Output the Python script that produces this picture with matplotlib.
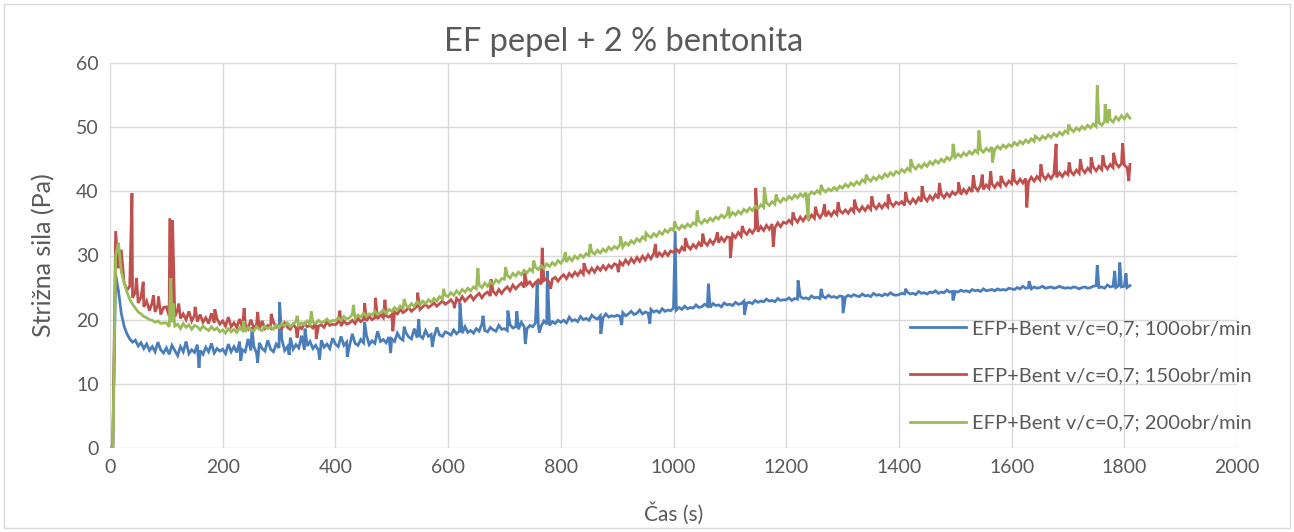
import numpy as np
import matplotlib.pyplot as plt
from matplotlib.patches import Rectangle

# shear force readings every 5 s (0 ... 1810 s)
step = 5

blue_100 = [
    0, 0, 27.0, 24.5, 21.0, 19.0, 17.8, 17.0, 16.5, 16.8, 15.9, 16.4, 15.5, 16.2, 15.2, 15.8, 15.0, 16.5, 15.3, 14.8,
    15.6, 14.6, 16.0, 15.2, 14.4, 15.8, 15.0, 16.6, 14.7, 15.3, 14.9, 16.1, 15.2, 14.6, 15.7, 15.0, 16.3, 14.8, 15.5, 15.1,
    15.4, 14.7, 16.2, 15.0, 15.8, 14.9, 16.6, 15.3, 15.0, 17.0, 15.2, 15.9, 14.8, 16.4, 15.5, 15.1, 16.8, 15.4, 15.0, 16.2,
    15.6, 16.9, 15.2, 15.8, 17.2, 15.4, 16.1, 15.6, 17.5, 15.3, 15.9, 16.6, 15.5, 16.0, 15.2, 16.8, 15.7, 16.2, 15.5, 17.1,
    16.2, 15.8, 17.4, 16.0, 16.5, 15.9, 17.8, 16.3, 16.0, 16.9, 16.4, 17.6, 16.1, 16.7, 16.3, 18.2, 16.6, 16.9, 16.4, 17.3,
    17.0, 16.6, 17.9, 17.1, 16.8, 18.0, 17.3, 17.0, 18.6, 17.2, 17.5, 17.1, 18.3, 17.4, 17.7, 17.3, 18.8, 17.6, 17.4, 18.1,
    17.9, 17.6, 18.4, 17.8, 18.2, 17.9, 18.9, 18.0, 18.3, 17.9, 18.6, 18.2, 19.3, 18.3, 18.1, 18.8, 18.4, 18.2, 19.1, 18.5,
    18.6, 18.3, 19.2, 18.7, 18.9, 18.5, 19.6, 18.9, 18.6, 19.1, 18.9, 19.5, 19.2, 19.0, 19.8, 19.3, 19.1, 19.7, 19.4, 19.9,
    19.6, 19.9, 19.5, 20.4, 19.8, 20.0, 19.7, 20.5, 20.0, 20.2, 19.9, 20.7, 20.3, 20.1, 20.6, 20.3, 20.9, 20.4, 20.6, 20.5,
    20.7, 20.5, 21.1, 20.6, 20.9, 21.3, 20.8, 21.0, 21.5, 20.9, 21.2, 21.0, 21.6, 21.2, 21.4, 21.1, 21.7, 21.3, 21.5, 21.4,
    21.8, 21.5, 21.9, 21.6, 22.1, 21.7, 21.9, 21.8, 22.3, 21.9, 22.0, 22.4, 22.1, 21.9, 22.5, 22.2, 22.3, 22.0, 22.6, 22.3,
    22.4, 22.2, 22.7, 22.4, 22.5, 22.9, 22.6, 22.7, 22.5, 23.0, 22.7, 22.9, 22.8, 23.2, 22.9, 23.0, 22.8, 23.3, 23.0, 23.1,
    23.1, 23.4, 23.0, 23.3, 23.2, 23.6, 23.3, 23.4, 23.2, 23.7, 23.4, 23.5, 23.3, 23.6, 23.4, 23.8, 23.5, 23.6, 23.4, 23.7,
    23.6, 23.5, 23.8, 23.6, 23.9, 23.7, 23.6, 24.0, 23.7, 23.8, 23.6, 24.1, 23.8, 23.9, 23.7, 24.0, 23.8, 24.2, 23.9, 23.8,
    23.9, 24.1, 24.0, 24.3, 24.0, 24.1, 23.9, 24.4, 24.1, 24.2, 24.0, 24.3, 24.2, 24.5, 24.1, 24.3, 24.2, 24.6, 24.3, 24.4,
    24.4, 24.3, 24.6, 24.4, 24.5, 24.3, 24.7, 24.5, 24.6, 24.4, 24.8, 24.5, 24.6, 24.7, 24.5, 24.8, 24.6, 24.7, 24.6, 24.9,
    24.8, 24.7, 25.0, 24.8, 25.2, 24.9, 25.0, 24.8, 25.1, 24.9, 25.0, 25.2, 24.9, 25.0, 25.1, 24.9, 25.0, 25.2, 25.0, 24.9,
    25.0, 24.9, 25.1, 25.0, 24.8, 25.0, 25.1, 24.9, 25.0, 25.2, 25.3, 25.0, 25.1, 24.9, 25.4, 25.1, 25.2, 25.0, 25.3, 25.1,
    25.2, 25.0, 25.3,
]

red_150 = [
    0, 0, 33.8, 28.0, 30.9, 25.8, 24.6, 25.2, 23.4, 24.3, 22.6, 23.5, 22.0, 22.9, 21.4, 22.7, 21.2, 22.3, 20.8, 21.9,
    22.0, 20.6, 21.4, 20.4, 21.6, 20.2, 20.9, 20.0, 21.3, 19.8, 20.7, 19.7, 20.8, 19.6, 20.3, 19.4, 21.0, 19.5, 20.1, 19.3,
    19.8, 19.0, 20.4, 18.9, 19.5, 18.8, 20.1, 18.7, 19.3, 18.6, 20.0, 18.7, 19.2, 18.5, 19.8, 18.6, 19.1, 18.7, 19.6, 18.8,
    19.0, 18.6, 19.5, 18.8, 18.5, 19.3, 18.7, 19.0, 18.6, 19.4, 18.9, 19.1, 18.7, 19.6, 19.0, 19.2, 18.8, 19.7, 19.1, 19.3,
    19.2, 19.6, 19.0, 19.8, 19.3, 19.5, 19.9, 19.4, 20.2, 19.7, 20.0, 19.8, 20.5, 20.0, 20.3, 20.1, 20.8, 20.3, 20.6, 20.4,
    20.8, 21.2, 20.9, 21.6, 21.1, 21.4, 21.9, 21.3, 21.7, 22.1, 21.6, 22.0, 22.4, 21.9, 22.2, 22.6, 22.1, 22.5, 22.9, 22.4,
    22.7, 23.1, 22.5, 23.3, 22.8, 23.6, 22.9, 23.4, 23.8, 23.1, 23.7, 24.1, 23.4, 24.0, 24.3, 23.7, 24.4, 23.9, 24.7, 24.1,
    24.7, 25.1, 24.5, 25.4, 24.8, 25.3, 25.7, 25.0, 25.5, 25.9, 25.2, 25.8, 26.2, 25.5, 26.1, 26.4, 25.7, 26.3, 26.6, 26.0,
    26.6, 27.0, 26.4, 27.2, 26.7, 27.4, 26.9, 27.6, 27.1, 27.8, 27.3, 28.0, 27.4, 28.2, 27.7, 28.4, 27.8, 28.5, 28.1, 28.7,
    28.5, 29.0, 28.5, 29.3, 28.7, 29.5, 28.9, 29.7, 29.1, 29.9, 29.3, 30.1, 29.5, 30.3, 29.7, 30.4, 29.9, 30.6, 30.0, 30.7,
    30.5, 31.0, 30.5, 31.3, 30.7, 31.5, 31.0, 31.7, 31.2, 32.0, 31.4, 32.1, 31.6, 32.4, 31.8, 32.6, 32.0, 32.8, 32.2, 32.9,
    32.8, 33.3, 32.8, 33.6, 33.0, 33.8, 33.3, 34.0, 33.5, 34.2, 33.7, 34.5, 33.9, 34.7, 34.1, 34.9, 34.3, 35.1, 34.5, 35.2,
    35.0, 35.5, 35.0, 35.8, 35.2, 36.0, 35.4, 36.1, 35.6, 36.3, 35.8, 36.5, 35.9, 36.6, 36.1, 36.8, 36.2, 36.9, 36.4, 37.0,
    36.6, 37.1, 36.6, 37.3, 36.8, 37.4, 36.9, 37.6, 37.0, 37.7, 37.2, 37.8, 37.3, 38.0, 37.4, 38.1, 37.6, 38.2, 37.7, 38.3,
    38.0, 38.4, 37.8, 38.6, 38.1, 38.8, 38.2, 39.0, 38.4, 39.1, 38.5, 39.3, 38.7, 39.5, 38.9, 39.6, 39.0, 39.7, 39.2, 39.9,
    39.5, 40.0, 39.5, 40.3, 39.7, 40.5, 39.9, 40.7, 40.1, 40.9, 40.3, 41.0, 40.5, 41.2, 40.6, 41.3, 40.8, 41.5, 40.9, 41.6,
    41.2, 41.7, 41.2, 41.9, 41.3, 42.0, 41.5, 42.2, 41.6, 42.3, 41.8, 42.5, 41.9, 42.6, 42.0, 42.7, 42.2, 42.9, 42.3, 43.0,
    42.6, 43.1, 42.6, 43.3, 42.8, 43.5, 42.9, 43.6, 43.1, 43.8, 43.2, 43.9, 43.4, 44.1, 43.5, 44.2, 43.7, 44.4, 43.8, 44.3,
    44.1, 43.7, 44.2,
]

green_200 = [
    0, 0, 30.0, 32.0, 27.5, 25.8, 24.3, 23.2, 22.4, 21.8, 21.2, 20.9, 20.5, 20.3, 20.0, 19.9, 19.6, 19.8, 19.4, 19.5,
    19.5, 18.9, 19.6, 19.0, 19.3, 18.6, 19.4, 18.8, 19.2, 18.5, 19.1, 18.9, 18.4, 19.0, 18.6, 18.3, 18.9, 18.4, 18.7, 18.1,
    18.4, 17.9, 18.6, 18.1, 18.5, 18.0, 18.7, 18.3, 18.1, 18.8, 18.4, 18.2, 18.9, 18.5, 18.3, 19.0, 18.6, 18.9, 18.5, 19.2,
    18.8, 19.4, 19.0, 19.5, 18.9, 19.3, 19.7, 19.1, 19.5, 19.2, 19.8, 19.3, 19.6, 19.4, 19.9, 19.5, 19.7, 20.1, 19.6, 19.9,
    19.8, 20.3, 19.9, 20.5, 20.1, 20.3, 20.8, 20.2, 20.7, 20.4, 21.0, 20.5, 20.9, 20.7, 21.3, 20.8, 21.1, 21.5, 21.0, 21.6,
    21.3, 21.9, 21.5, 22.1, 21.7, 22.3, 21.9, 22.5, 22.1, 22.8, 22.3, 22.9, 22.5, 23.1, 22.7, 23.3, 22.9, 23.6, 23.2, 23.8,
    23.6, 24.2, 23.8, 24.5, 24.0, 24.7, 24.3, 24.9, 24.5, 25.1, 24.8, 25.4, 25.0, 25.7, 25.2, 25.9, 25.5, 26.2, 25.8, 26.4,
    26.3, 26.9, 26.5, 27.2, 26.8, 27.4, 27.0, 27.7, 27.3, 27.9, 27.5, 28.2, 27.8, 28.4, 28.0, 28.7, 28.3, 28.9, 28.5, 29.2,
    28.8, 29.4, 29.0, 29.7, 29.2, 29.9, 29.5, 30.1, 29.7, 30.3, 30.0, 30.6, 30.2, 30.8, 30.4, 31.0, 30.6, 31.3, 30.9, 31.4,
    31.1, 31.7, 31.3, 32.0, 31.6, 32.3, 31.9, 32.6, 32.2, 32.9, 32.5, 33.1, 32.8, 33.4, 33.0, 33.7, 33.3, 34.0, 33.6, 34.2,
    33.9, 34.5, 34.1, 34.7, 34.3, 34.9, 34.5, 35.1, 34.8, 35.4, 35.0, 35.6, 35.2, 35.8, 35.4, 36.0, 35.7, 36.3, 35.9, 36.4,
    36.1, 36.7, 36.3, 36.9, 36.5, 37.2, 36.8, 37.4, 37.0, 37.7, 37.3, 37.9, 37.5, 38.2, 37.8, 38.4, 38.0, 38.7, 38.3, 38.9,
    38.6, 39.2, 38.8, 39.4, 39.0, 39.6, 39.2, 39.8, 39.4, 39.9, 39.6, 40.1, 39.7, 40.3, 39.9, 40.4, 40.1, 40.6, 40.2, 40.8,
    40.5, 41.1, 40.7, 41.3, 40.9, 41.5, 41.1, 41.8, 41.4, 42.0, 41.6, 42.2, 41.8, 42.4, 42.0, 42.7, 42.3, 42.9, 42.5, 43.1,
    42.8, 43.4, 43.0, 43.6, 43.2, 43.9, 43.5, 44.1, 43.7, 44.3, 43.9, 44.6, 44.2, 44.8, 44.4, 45.0, 44.6, 45.3, 44.9, 45.5,
    45.3, 45.8, 45.4, 46.0, 45.6, 46.2, 45.8, 46.4, 46.0, 46.5, 46.1, 46.7, 46.3, 46.9, 46.5, 47.0, 46.6, 47.2, 46.8, 47.3,
    47.0, 47.6, 47.2, 47.8, 47.4, 48.0, 47.6, 48.2, 47.8, 48.4, 48.0, 48.6, 48.2, 48.8, 48.4, 49.0, 48.6, 49.2, 48.8, 49.4,
    49.1, 49.7, 49.3, 49.9, 49.5, 50.1, 49.7, 50.3, 49.9, 50.5, 50.1, 50.7, 50.3, 50.9, 50.6, 51.2, 50.8, 51.6, 51.1, 51.8,
    51.3, 52.0, 51.4,
]

# single off-grid readings (peaks and dips)
blue_peak_t = [158, 232, 252, 262, 301, 318, 346, 372, 421, 452, 498, 522, 548, 572, 621, 662, 706, 722, 737,
               758, 762, 776, 871, 908, 958, 1003, 1062, 1126, 1221, 1262, 1301, 1412, 1496, 1631, 1752, 1783,
               1792, 1803]
blue_peak_v = [12.5, 13.6, 18.8, 13.3, 22.7, 14.5, 18.6, 13.8, 14.2, 19.6, 14.8, 18.9, 20.1, 15.8, 22.6, 20.6,
               21.4, 21.3, 16.2, 25.8, 18.0, 27.6, 17.8, 19.2, 19.4, 33.8, 25.6, 20.8, 26.1, 24.8, 21.0, 24.8,
               23.0, 26.0, 28.5, 27.6, 28.9, 27.2]

red_peak_t = [39, 47, 59, 77, 86, 106, 111, 122, 151, 186, 238, 262, 286, 332, 366, 408, 452, 471, 488, 502,
              546, 611, 676, 736, 767, 782, 841, 902, 968, 1021, 1052, 1078, 1101, 1122, 1146, 1177, 1212, 1252,
              1268, 1292, 1321, 1352, 1381, 1412, 1441, 1472, 1506, 1532, 1548, 1563, 1581, 1603, 1627, 1652,
              1679, 1702, 1722, 1741, 1762, 1781, 1797, 1808]
red_peak_v = [39.7, 26.5, 25.9, 23.8, 23.6, 35.8, 35.5, 22.5, 22.0, 21.6, 21.8, 21.2, 20.9, 17.2, 17.0, 21.4,
              22.6, 23.4, 23.1, 18.2, 24.2, 21.8, 26.3, 27.3, 31.2, 24.8, 28.8, 27.4, 31.8, 32.7, 33.4, 33.6,
              29.6, 34.6, 40.5, 31.4, 36.7, 37.6, 38.0, 38.3, 38.7, 39.2, 39.5, 39.9, 40.8, 41.3, 41.4, 42.5,
              42.6, 43.1, 42.4, 43.4, 37.5, 44.2, 47.4, 44.5, 45.0, 45.3, 45.6, 46.0, 47.5, 41.6]

green_peak_t = [108, 112, 237, 332, 357, 432, 522, 592, 653, 702, 752, 808, 852, 906, 951, 1002, 1042, 1098,
                1161, 1182, 1239, 1262, 1342, 1421, 1496, 1542, 1566, 1642, 1701, 1752, 1766, 1773]
green_peak_v = [26.5, 22.5, 19.8, 20.6, 21.3, 22.3, 23.2, 24.8, 28.0, 28.2, 29.2, 30.5, 31.8, 33.0, 33.5, 35.3,
                37.0, 37.6, 40.6, 39.5, 35.5, 41.0, 42.6, 45.0, 47.4, 49.5, 44.5, 48.6, 50.4, 56.5, 53.6, 52.8]

labels = ["EFP+Bent v/c=0,7; 100obr/min",
          "EFP+Bent v/c=0,7; 150obr/min",
          "EFP+Bent v/c=0,7; 200obr/min"]
colors = ["#4a7ebb", "#c0504d", "#9bbb59"]


def merge(values, peak_t, peak_v):
    t = np.arange(len(values)) * step
    t_all = np.concatenate([t, peak_t])
    v_all = np.concatenate([values, peak_v])
    order = np.argsort(t_all, kind="stable")
    return t_all[order], v_all[order]


plt.rcParams["font.family"] = ["Lato", "DejaVu Sans"]
grey = "#595959"

fig = plt.figure(figsize=(12.94, 5.32), dpi=100)
ax = fig.add_axes([110 / 1294, 1 - 448 / 532, 1127 / 1294, 385 / 532])

series = [(blue_100, blue_peak_t, blue_peak_v),
          (red_150, red_peak_t, red_peak_v),
          (green_200, green_peak_t, green_peak_v)]
for (vals, pt, pv), lab, col in zip(series, labels, colors):
    t, v = merge(vals, pt, pv)
    ax.plot(t, v, color=col, lw=2.0, label=lab, solid_joinstyle="miter")

ax.set_xlim(0, 2000)
ax.set_ylim(0, 60)
ax.set_xticks(np.arange(0, 2001, 200))
ax.set_yticks(np.arange(0, 61, 10))
ax.grid(True, color="#d9d9d9", lw=1.0)
ax.set_axisbelow(True)
for s in ax.spines.values():
    s.set_visible(False)
ax.tick_params(length=0, labelsize=14, labelcolor=grey, pad=8)

ax.set_xlabel("Čas (s)", fontsize=15, color=grey, labelpad=19)
ax.set_ylabel("Strižna sila (Pa)", fontsize=18, color=grey, labelpad=15)
fig.text(624 / 1294, 1 - 42 / 532, "EF pepel + 2 % bentonita", ha="center", va="center",
         fontsize=23.5, color=grey)

leg = ax.legend(loc="upper left", bbox_to_anchor=(900 / 1294, 1 - 310 / 532),
                bbox_transform=fig.transFigure, frameon=False, fontsize=14.5,
                labelspacing=1.5, handlelength=2.8, handletextpad=0.3, borderpad=0)
for txt in leg.get_texts():
    txt.set_color(grey)

# light frame around the whole chart
fig.patches.append(Rectangle((4 / 1294, 4 / 532), 1286 / 1294, 524 / 532, transform=fig.transFigure,
                             fill=False, edgecolor="#d9d9d9", lw=1.0))

fig.savefig("out.png", dpi=100)
plt.close(fig)
